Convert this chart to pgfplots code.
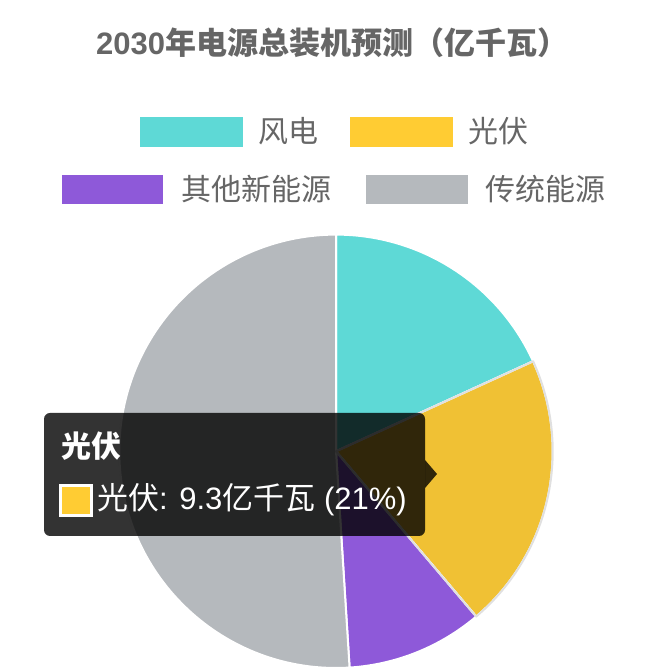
\documentclass[border=0pt]{standalone}
\usepackage{pgfplots}
\pgfplotsset{compat=1.18}
\usepackage{pgfplotstable}
\usepackage{fontspec}
\setmainfont{Liberation Sans}
\newfontfamily\cjk{Noto Sans CJK SC}

\definecolor{cwind}{HTML}{5ED9D6}
\definecolor{csolar}{HTML}{FFCC33}
\definecolor{csolarhov}{HTML}{F0C134}
\definecolor{cother}{HTML}{8E59D9}
\definecolor{cfossil}{HTML}{B5B9BD}
\definecolor{txt}{HTML}{666666}
\colorlet{pc0}{cwind}
\colorlet{pc1}{csolarhov}
\colorlet{pc2}{cother}
\colorlet{pc3}{cfossil}

% 2030 installed capacity, 100 GW units
\pgfplotstableread{
source value
wind   8.2
solar  9.3
other  4.6
fossil 23.0
}\piedata

% slice angles, clockwise from 12 o'clock
\def\pietotal{0}
\pgfplotsforeachungrouped \i in {0,...,3}{%
  \pgfplotstablegetelem{\i}{value}\of\piedata
  \pgfmathsetmacro\pietotal{\pietotal+\pgfplotsretval}%
}
\def\piecum{0}
\pgfplotsforeachungrouped \i in {0,...,3}{%
  \pgfplotstablegetelem{\i}{value}\of\piedata
  \pgfmathsetmacro\a{90-360*\piecum/\pietotal}%
  \pgfmathsetmacro\piecum{\piecum+\pgfplotsretval}%
  \pgfmathsetmacro\b{90-360*\piecum/\pietotal}%
  \expandafter\xdef\csname pieA\i\endcsname{\a}%
  \expandafter\xdef\csname pieB\i\endcsname{\b}%
}

\def\cx{336}
\def\cy{220.7}
\def\rad{216.7bp}

\begin{document}
\begin{tikzpicture}
\path[use as bounding box] (0,0) rectangle (672bp,672bp);
\begin{axis}[
    at={(0,0)}, anchor=south west,
    scale only axis, width=672bp, height=672bp,
    xmin=0, xmax=672, ymin=0, ymax=672,
    hide axis, clip=false,
]
\pgfplotsinvokeforeach{0,...,3}{
  \fill[pc#1, draw=white, line width=2bp, line join=round]
    (axis cs:\cx,\cy) -- ++(\csname pieA#1\endcsname:\rad)
    arc[start angle=\csname pieA#1\endcsname, end angle=\csname pieB#1\endcsname, radius=\rad] -- cycle;
}
% hovered slice outline
\draw[black!12, line width=2bp, line join=round]
    (axis cs:\cx,\cy) -- ++(\csname pieA1\endcsname:\rad)
    arc[start angle=\csname pieA1\endcsname, end angle=\csname pieB1\endcsname, radius=\rad] -- cycle;

% title
\node[anchor=base west, inner sep=0, text=txt, font=\bfseries\fontsize{31bp}{37bp}\selectfont]
  at (axis cs:96,617) {2030{\cjk\bfseries 年电源总装机预测（亿千瓦）}};

% legend
\tikzset{lg/.style={anchor=west, inner sep=0, text=txt, font=\cjk\fontsize{30bp}{36bp}\selectfont}}
\fill[cwind]   (axis cs:140,525) rectangle (axis cs:243,555);
\node[lg] at (axis cs:258,541) {风电};
\fill[csolar]  (axis cs:350,525) rectangle (axis cs:453,555);
\node[lg] at (axis cs:468,541) {光伏};
\fill[cother]  (axis cs:62,468) rectangle (axis cs:163,497);
\node[lg] at (axis cs:181,483) {其他新能源};
\fill[cfossil] (axis cs:366,468) rectangle (axis cs:468,497);
\node[lg] at (axis cs:485,483) {传统能源};

% tooltip
\fill[black, fill opacity=0.8, rounded corners=6bp] (axis cs:44,136) rectangle (axis cs:425,259);
\fill[black, fill opacity=0.8] (axis cs:425,212) -- (axis cs:437,198) -- (axis cs:425,184) -- cycle;
\node[anchor=west, inner sep=0, text=white, font=\cjk\bfseries\fontsize{30bp}{36bp}\selectfont]
  at (axis cs:61,226) {光伏};
\fill[white]  (axis cs:59,155) rectangle (axis cs:93,188);
\fill[csolar] (axis cs:62,158) rectangle (axis cs:90,185);
\node[anchor=west, inner sep=0, text=white, font=\fontsize{31bp}{37bp}\selectfont]
  at (axis cs:97,172) {{\cjk 光伏}: 9.3{\cjk 亿千瓦} (21\%)};
\end{axis}
\end{tikzpicture}
\end{document}
